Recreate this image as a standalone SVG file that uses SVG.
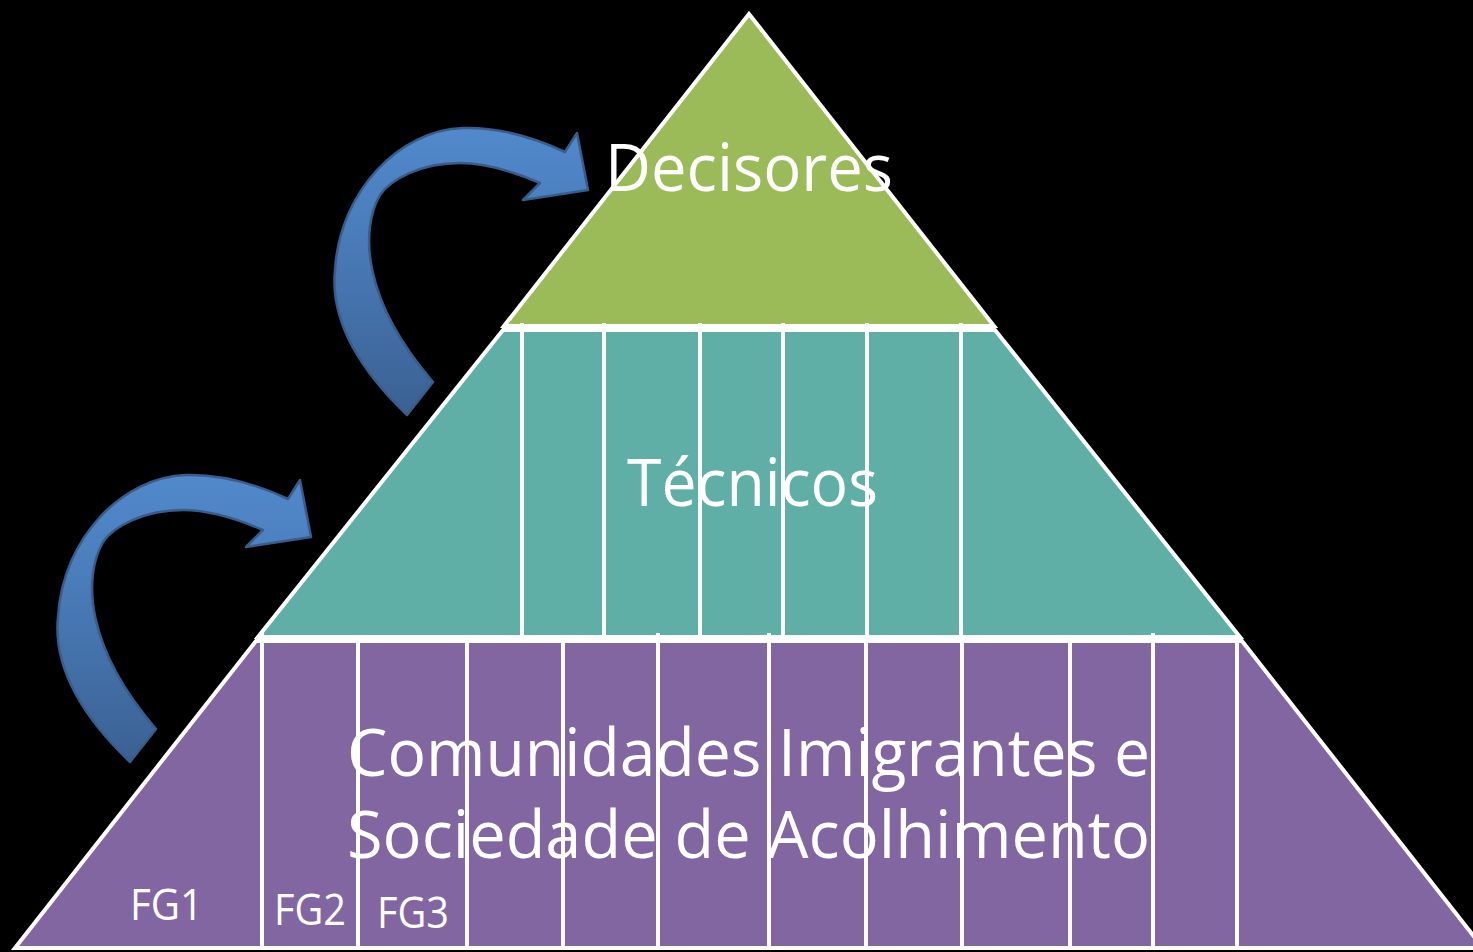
<svg xmlns="http://www.w3.org/2000/svg" width="1473" height="952" viewBox="0 0 1473 952">
<style>
.lvl{stroke:#fff;stroke-width:4;stroke-linejoin:miter}
.grid{stroke:#fff;stroke-width:4;fill:none}
.big{font-family:"Open Sans","Liberation Sans",sans-serif;font-size:66px;fill:#fff}
.fg{font-family:"Open Sans","Liberation Sans",sans-serif;font-size:43px;fill:#fff}
.arrow{fill:url(#ag);stroke:#385D8A;stroke-width:2.5;stroke-linejoin:round}
</style>
<defs>
<linearGradient id="ag" x1="0" y1="0" x2="0" y2="1">
<stop offset="0" stop-color="#5189CC"/>
<stop offset="0.35" stop-color="#4A7DBB"/>
<stop offset="1" stop-color="#3B6193"/>
</linearGradient>
<path id="carrow" d="M407,415 C360,370 330,320 335,270 C340,190 400,130 463,128 C500,127 535,138 565,152 L577,133 L588,190 L523,200 L540,183 C510,170 485,163 460,163 C420,163 390,180 380,195 C360,230 362,300 433,382 Z"/>
</defs>
<rect width="1473" height="952" fill="#000"/>
<g id="level-decisores">
<polygon class="lvl" fill="#9BBB59" points="749,14 994,326 504,326"/>
</g>
<g id="level-tecnicos">
<polygon class="lvl" fill="#5FAFA6" points="503,330 995,330 1240,637 258,637"/>
<path class="grid" d="M522,323V637M604,323V637M700,323V637M783,323V637M867,323V637M961,323V637"/>
</g>
<g id="level-comunidades">
<polygon class="lvl" fill="#8166A2" points="256,641 1242,641 1483,948 15,948"/>
<path class="grid" d="M262,633V948M358,641V948M467,641V948M563,641V948M658,633V948M769,633V948M866,641V948M962,641V948M1070,641V948M1153,633V948M1237,641V948"/>
</g>
<g id="labels">
<text class="big" x="605" y="191" textLength="288" lengthAdjust="spacingAndGlyphs">Decisores</text>
<text class="big" x="627" y="506" textLength="251" lengthAdjust="spacingAndGlyphs">Técnicos</text>
<text class="big" x="347" y="776" textLength="803" lengthAdjust="spacingAndGlyphs">Comunidades Imigrantes e</text>
<text class="big" x="347" y="858" textLength="803" lengthAdjust="spacingAndGlyphs">Sociedade de Acolhimento</text>
<text class="fg" x="130" y="920" textLength="73" lengthAdjust="spacingAndGlyphs">FG1</text>
<text class="fg" x="274" y="925" textLength="72" lengthAdjust="spacingAndGlyphs">FG2</text>
<text class="fg" x="377" y="928" textLength="72" lengthAdjust="spacingAndGlyphs">FG3</text>
</g>
<g id="connectors">
<use href="#carrow" class="arrow"/>
<use href="#carrow" class="arrow" transform="translate(-277,347)"/>
</g>
</svg>
